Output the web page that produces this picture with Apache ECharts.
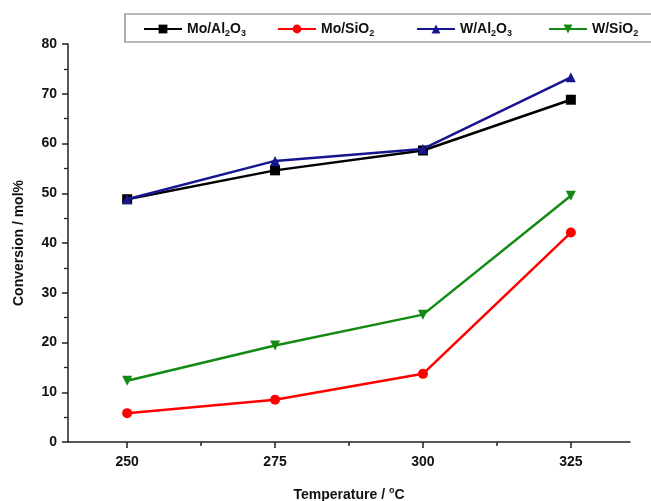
<!DOCTYPE html>
<html><head><meta charset="utf-8">
<script src="https://cdn.jsdelivr.net/npm/echarts@6/dist/echarts.min.js"></script>
<style>html,body{margin:0;padding:0;background:#fff}#c{width:651px;height:501px}</style>
</head><body><div id="c"></div>
<script>
const temperatures = [250, 275, 300, 325];
const moAl2O3 = [48.8, 54.6, 58.6, 68.8];
const moSiO2 = [5.8, 8.5, 13.7, 42.1];
const wAl2O3 = [48.8, 56.5, 58.9, 73.3];
const wSiO2 = [12.3, 19.4, 25.6, 49.5];
const seriesNames = ['Mo/Al2O3', 'Mo/SiO2', 'W/Al2O3', 'W/SiO2'];
const seriesLabels = ['Mo/Al{s|2}O{s|3}', 'Mo/SiO{s|2}', 'W/Al{s|2}O{s|3}', 'W/SiO{s|2}'];
const xTicks = [250, 275, 300, 325];
const xMinorTicks = [262.5, 287.5, 312.5];
const yTicks = [0, 10, 20, 30, 40, 50, 60, 70, 80];

const colors = ['#000000', '#ff0000', '#16168f', '#138a13'];
const symbols = ['rect', 'circle', 'triangle', 'path://M0,0 L10,0 L5,9 Z'];
const values = [moAl2O3, moSiO2, wAl2O3, wSiO2];
const font = 'Arial, "Liberation Sans", sans-serif';

const chart = echarts.init(document.getElementById('c'));
const legendLefts = [138, 272, 411, 543];
const rich = { s: { fontSize: 9, fontWeight: 'bold', fontFamily: font, color: '#111', padding: [10, 0, 0, 0] } };
const lbl = { fontSize: 14, fontWeight: 'bold', fontFamily: font, color: '#111' };

chart.setOption({
  animation: false,
  backgroundColor: '#fff',
  grid: { left: 68, right: 21, top: 44, bottom: 59, outerBoundsMode: 'none', containLabel: false },
  graphic: [{ type: 'rect', shape: { x: 125, y: 14, width: 540, height: 28 }, style: { fill: 'none', stroke: '#777', lineWidth: 1.2 } }],
  legend: seriesNames.map((n, i) => ({
    data: [n], left: legendLefts[i], top: 17, itemWidth: 38, itemHeight: 11, itemGap: 4,
    formatter: () => seriesLabels[i],
    textStyle: Object.assign({}, lbl, { rich: rich })
  })),
  xAxis: [{
    type: 'value', min: 240, max: 335, interval: 25,
    name: 'Temperature / {sup|o}C', nameLocation: 'middle', nameGap: 44,
    nameTextStyle: Object.assign({}, lbl, {
      rich: { sup: { fontSize: 9, fontWeight: 'bold', fontFamily: font, color: '#111', padding: [0, 0, 9, 0] } } }),
    axisLine: { show: true, onZero: false, lineStyle: { color: '#222', width: 1.5 } },
    axisTick: { show: true, inside: false, length: 6, lineStyle: { color: '#222', width: 1.5 },
      customValues: xTicks },
    minorTick: { show: false },
    axisLabel: Object.assign({}, lbl, { margin: 13, customValues: xTicks }),
    splitLine: { show: false }
  }, {
    type: 'value', min: 240, max: 335, position: 'bottom',
    axisLine: { show: false, onZero: false },
    axisTick: { show: true, inside: false, length: 4, lineStyle: { color: '#222', width: 1.5 },
      customValues: xMinorTicks },
    axisLabel: { show: false },
    splitLine: { show: false }
  }],
  yAxis: {
    type: 'value', min: 0, max: 80, interval: 10,
    name: 'Conversion / mol%', nameLocation: 'middle', nameGap: 42,
    nameTextStyle: lbl,
    axisLine: { show: true, lineStyle: { color: '#222', width: 1.5 } },
    axisTick: { show: true, inside: false, length: 6, lineStyle: { color: '#222', width: 1.5 } },
    minorTick: { show: true, splitNumber: 2, length: 4, lineStyle: { color: '#222', width: 1.3 } },
    axisLabel: Object.assign({}, lbl, { margin: 11, customValues: yTicks }),
    splitLine: { show: false }
  },
  series: seriesNames.map((n, i) => ({
    name: n, type: 'line',
    data: temperatures.map((t, j) => [t, values[i][j]]),
    symbol: symbols[i], symbolSize: 10, showSymbol: true,
    lineStyle: { color: colors[i], width: 2.5 },
    itemStyle: { color: colors[i] },
    z: i === 2 ? 3 : 2
  }))
});
</script></body></html>
